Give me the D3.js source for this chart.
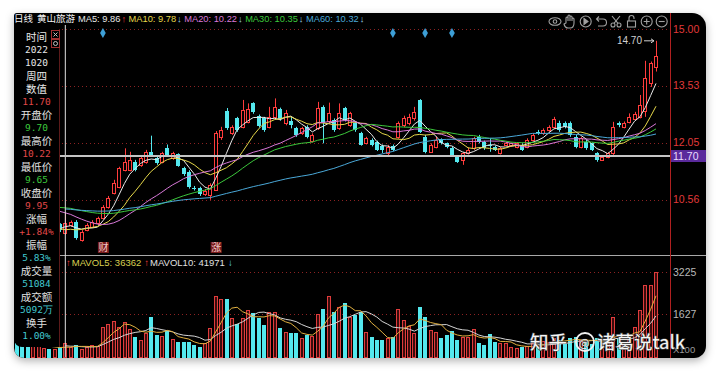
<!DOCTYPE html>
<html>
<head>
<meta charset="utf-8">
<script src="https://cdn.jsdelivr.net/npm/d3@7"></script>
<style>
body{margin:0;background:#fff;}
svg{display:block;}
</style>
</head>
<body>
<svg id="chart" width="720" height="371"></svg>
<script>
// daily K line, 120 sessions; index 9 is the cursor day (2022-10-20)
var openP = [10.05,9.88,9.75,9.58,9.62,9.70,9.88,9.80,9.92,
  9.70,9.90,9.99,9.51,9.77,9.86,9.95,10.08,10.38,10.73,
  10.90,11.34,11.34,11.55,11.47,11.55,11.81,11.64,11.55,11.90,
  11.64,11.75,11.38,11.29,10.87,10.86,10.70,10.69,10.82,12.20,
  12.88,12.29,12.68,12.46,12.59,13.07,12.74,12.68,12.46,12.72,
  12.92,12.55,12.62,12.42,12.29,12.46,12.10,12.42,12.98,12.60,
  12.64,12.42,12.94,12.51,12.55,12.29,12.03,12.12,12.07,11.97,
  11.77,11.95,12.20,12.51,12.55,12.68,13.16,12.20,11.81,11.94,
  12.13,12.03,11.90,11.68,11.60,11.77,11.90,12.20,12.07,11.99,
  11.94,11.77,11.99,11.99,11.94,11.99,11.94,12.12,12.33,12.29,
  12.38,12.46,12.55,12.55,12.55,12.20,11.94,12.07,12.03,11.77,
  11.60,11.68,11.77,12.55,12.46,12.59,12.66,12.72,12.88,13.59,14.03];
var highP = [10.10,9.92,9.78,9.70,9.72,9.90,9.92,9.95,9.95,
  10.22,10.02,10.03,9.77,9.95,10.03,10.12,10.42,10.66,11.08,
  11.42,11.90,11.81,11.60,11.68,11.86,12.23,11.68,11.81,12.00,
  11.81,11.77,11.42,11.33,10.92,10.90,10.84,10.99,12.35,12.46,
  12.95,12.50,12.72,13.16,13.07,13.10,12.78,12.72,12.98,13.20,
  12.96,12.90,12.72,12.46,12.46,12.50,12.29,13.11,13.02,13.09,
  12.68,13.07,12.98,12.85,12.60,12.33,12.20,12.16,12.10,12.00,
  11.99,12.00,12.60,12.75,12.80,12.98,13.18,12.25,12.03,12.20,
  12.16,12.05,11.95,11.72,11.80,11.92,12.20,12.25,12.10,12.16,
  11.97,11.94,12.07,12.05,12.05,12.03,12.16,12.29,12.38,12.42,
  12.50,12.72,12.62,12.60,12.60,12.25,12.20,12.12,12.05,11.80,
  11.72,11.80,12.59,12.60,12.60,12.81,12.85,13.29,14.18,14.16,14.70];
var lowP = [9.80,9.68,9.55,9.54,9.58,9.66,9.78,9.76,9.72,
  9.65,9.86,9.52,9.47,9.74,9.84,9.90,10.05,10.33,10.70,
  10.86,11.30,11.30,11.30,11.42,11.50,11.68,11.47,11.51,11.68,
  11.60,11.42,11.18,10.85,10.80,10.66,10.66,10.56,10.80,12.12,
  12.38,12.25,12.33,12.42,12.55,12.80,12.44,12.33,12.42,12.68,
  12.62,12.50,12.42,12.20,12.25,12.16,12.05,12.38,12.03,12.55,
  12.33,12.38,12.60,12.46,12.33,11.97,12.00,11.95,11.83,11.78,
  11.72,11.83,12.15,12.45,12.50,12.62,12.30,11.77,11.78,11.90,
  12.00,11.90,11.70,11.52,11.47,11.74,11.86,12.03,11.86,11.81,
  11.83,11.74,11.97,11.95,11.90,11.83,11.90,12.10,12.25,12.25,
  12.33,12.42,12.33,12.42,12.20,11.90,11.90,11.86,11.83,11.55,
  11.57,11.64,11.73,12.45,12.42,12.55,12.62,12.68,12.72,13.50,13.90];
var closeP = [9.85,9.72,9.60,9.65,9.68,9.85,9.83,9.90,9.77,
  9.95,9.97,9.56,9.73,9.90,9.97,10.08,10.38,10.60,10.99,
  11.39,11.55,11.60,11.34,11.64,11.81,11.72,11.51,11.77,11.73,
  11.77,11.45,11.22,10.88,10.85,10.70,10.80,10.95,12.29,12.38,
  12.42,12.46,12.38,12.90,12.92,12.85,12.48,12.38,12.72,12.98,
  12.66,12.81,12.52,12.25,12.42,12.20,12.25,12.94,12.55,12.81,
  12.38,12.81,12.64,12.81,12.38,11.99,12.16,11.99,11.86,11.85,
  11.94,11.86,12.55,12.68,12.72,12.85,12.33,11.81,11.99,12.12,
  12.03,11.94,11.73,11.55,11.77,11.86,12.16,12.07,11.90,11.97,
  11.86,11.90,12.03,12.03,12.03,11.86,12.12,12.25,12.29,12.38,
  12.46,12.66,12.38,12.46,12.25,11.94,12.16,11.90,11.86,11.60,
  11.68,11.77,12.46,12.51,12.55,12.72,12.79,13.03,13.72,14.11,14.30];
// volume in units of 100 hands
var volume = [520,480,450,470,459,340,300,306,361,
  511,361,449,297,361,461,423,1146,1248,1362,
  1146,1312,1046,765,639,917,1503,829,791,982,
  666,575,575,575,449,361,514,1084,2313,2199,
  2199,1465,1248,1465,1781,1655,1465,1210,1716,1716,
  1084,932,894,917,704,818,791,1629,1819,2325,
  1716,1906,2059,1503,1590,1693,932,765,639,639,
  704,765,1819,1400,1183,917,1883,1526,1020,955,
  727,829,993,639,765,765,1046,537,449,856,
  575,514,514,361,323,361,420,520,380,600,
  560,700,640,520,700,760,620,560,480,700,
  420,560,1526,700,520,640,1134,1780,2731,2731,3225];
// closes before the window, only used for the moving averages
var earlierClose = [10.50,10.45,10.40,10.35,10.40,10.45,10.40,10.35,10.35,10.35,
  10.30,10.25,10.35,10.30,10.20,10.25,10.35,10.40,10.30,10.30,
  10.20,10.15,10.10,10.05,10.10,10.20,10.25,10.20,10.20,10.25,
  10.40,10.50,10.55,10.65,10.70,10.60,10.55,10.70,10.75,10.70,
  10.80,10.85,10.90,10.95,10.85,10.70,10.60,10.45,10.30,10.20];

var cursorIdx = 9;
var cursorPrice = 11.70;
var priceTicks = [15.00, 13.53, 12.05, 10.56];
var volTicks = [3225, 1627];
var maPeriods = [5, 10, 20, 30, 60];
var maNames = ['MA5', 'MA10', 'MA20', 'MA30', 'MA60'];
var maReadout = ['9.86', '9.78', '10.22', '10.35', '10.32'];
var maArrow = ['↑', '↓', '↓', '↓', '↓'];
var mavolNames = ['MAVOL5', 'MAVOL10'];
var mavolReadout = ['36362', '41971'];
var newsIdx = [16, 70, 76, 81];
var tagIdx = [16, 37];
var tagText = ['财', '涨'];
var infoNames = ['开盘价', '最高价', '最低价', '收盘价', '涨幅', '振幅', '成交量', '成交额', '换手'];
var infoValues = ['9.70', '10.22', '9.65', '9.95', '+1.84%', '5.83%', '51084', '5092万', '1.00%'];
var infoHead = ['时间', '2022', '1020', '周四', '数值', '11.70'];

var RED = '#ff3c3c', CYAN = '#54e8ee';
var maColors = ['#e8e8e8', '#e6d84a', '#d878d8', '#3cc83c', '#4aa8d8'];
var CJK = '"Noto Sans CJK SC", sans-serif';
var LAT = '"Liberation Sans", Arial, sans-serif';
var MONO = '"DejaVu Sans Mono", "Liberation Mono", monospace';

var svg = d3.select('#chart');
var defs = svg.append('defs');

function roundRect(x0, y0, w, h, r) {
  var p = d3.path();
  p.moveTo(x0 + r[0], y0);
  p.lineTo(x0 + w - r[1], y0);
  p.arcTo(x0 + w, y0, x0 + w, y0 + r[1], r[1]);
  p.lineTo(x0 + w, y0 + h - r[2]);
  p.arcTo(x0 + w, y0 + h, x0 + w - r[2], y0 + h, r[2]);
  p.lineTo(x0 + r[3], y0 + h);
  p.arcTo(x0, y0 + h, x0, y0 + h - r[3], r[3]);
  p.lineTo(x0, y0 + r[0]);
  p.arcTo(x0, y0, x0 + r[0], y0, r[0]);
  p.closePath();
  return p.toString();
}

var L = 14, R = 706, T = 13, B = 358, axisX = 670.5;
var panelPath = roundRect(L, T, R - L, B - T, [3, 14, 12, 10]);

var sh = defs.append('filter').attr('id', 'sh').attr('x', '-5%').attr('y', '-5%').attr('width', '110%').attr('height', '115%');
sh.append('feDropShadow').attr('dx', 0).attr('dy', 3).attr('stdDeviation', 4).attr('flood-color', '#000').attr('flood-opacity', 0.3);

svg.append('path').attr('d', panelPath).attr('fill', '#000').attr('filter', 'url(#sh)');

defs.append('clipPath').attr('id', 'clipP').append('rect').attr('x', L).attr('y', 25).attr('width', axisX - L).attr('height', 229);
defs.append('clipPath').attr('id', 'clipV').append('path').attr('d', roundRect(L, 256, axisX - L, B - 256, [0, 0, 0, 10]));

// scales
var n = closeP.length;
var x = d3.scaleBand().domain(d3.range(n)).range([14.3, 658.7]).paddingInner(0.3).paddingOuter(0.15);
var cx = function (i) { return x(i) + x.bandwidth() / 2; };
var y = d3.scaleLinear().domain([9.2, 15]).range([252, 29.3]);
var yv = d3.scaleLinear().domain([0, 3225]).range([356.8, 272]);

// grid
var grid = svg.append('g').attr('stroke', '#8c2222').attr('stroke-dasharray', '1,3');
grid.selectAll('line.p').data(priceTicks).enter().append('line')
  .attr('x1', L).attr('x2', axisX).attr('y1', function (d) { return Math.round(y(d)) + 0.5; }).attr('y2', function (d) { return Math.round(y(d)) + 0.5; });
grid.selectAll('line.v').data(volTicks).enter().append('line')
  .attr('x1', L).attr('x2', axisX).attr('y1', function (d) { return Math.round(yv(d)) + 0.5; }).attr('y2', function (d) { return Math.round(yv(d)) + 0.5; });

// candles
var gP = svg.append('g').attr('clip-path', 'url(#clipP)');
var gC = gP.append('g');
d3.range(n).forEach(function (i) {
  var up = closeP[i] >= openP[i];
  var col = up ? RED : CYAN;
  var bx = Math.round(x(i)), bw = Math.round(x.bandwidth());
  var wx = bx + 2.5;
  var yT = Math.round(y(Math.max(openP[i], closeP[i])));
  var yB = Math.round(y(Math.min(openP[i], closeP[i])));
  gC.append('line').attr('x1', wx).attr('x2', wx).attr('y1', y(highP[i])).attr('y2', yT).attr('stroke', col);
  gC.append('line').attr('x1', wx).attr('x2', wx).attr('y1', yB).attr('y2', y(lowP[i])).attr('stroke', col);
  if (up) {
    gC.append('rect').attr('x', bx + 0.5).attr('y', yT + 0.5).attr('width', bw - 1).attr('height', Math.max(0, yB - yT))
      .attr('fill', '#000').attr('stroke', col);
  } else {
    gC.append('rect').attr('x', bx).attr('y', yT).attr('width', bw).attr('height', Math.max(1, yB - yT)).attr('fill', col);
  }
});

// moving averages
var allClose = earlierClose.concat(closeP), off = earlierClose.length;
function movAvg(arr, k, shift) {
  return d3.range(n).map(function (i) {
    var e = shift + i;
    if (e - k + 1 < 0) return [i, null];
    return [i, d3.mean(arr.slice(e - k + 1, e + 1))];
  });
}
var line = d3.line().defined(function (d) { return d[1] != null; })
  .x(function (d) { return cx(d[0]); }).y(function (d) { return y(d[1]); });
maPeriods.forEach(function (k, j) {
  gP.append('path').datum(movAvg(allClose, k, off)).attr('d', line)
    .attr('fill', 'none').attr('stroke', maColors[j]).attr('stroke-width', 1);
});

// high marker
var hiIdx = d3.maxIndex(highP);
svg.append('text').attr('x', cx(hiIdx) - 14).attr('y', y(highP[hiIdx])).attr('text-anchor', 'end').attr('dy', '0.35em')
  .attr('fill', '#d0d0d0').style('font', '10px ' + LAT).text(highP[hiIdx].toFixed(2));
svg.append('line').attr('x1', cx(hiIdx) - 12).attr('x2', cx(hiIdx) - 2).attr('y1', y(highP[hiIdx])).attr('y2', y(highP[hiIdx]))
  .attr('stroke', '#d0d0d0');
svg.append('path').attr('d', d3.line()([[cx(hiIdx) - 5, y(highP[hiIdx]) - 2], [cx(hiIdx) - 2, y(highP[hiIdx])], [cx(hiIdx) - 5, y(highP[hiIdx]) + 2]]))
  .attr('fill', 'none').attr('stroke', '#d0d0d0');

// news diamonds
svg.selectAll('path.news').data(newsIdx).enter().append('path')
  .attr('d', d3.symbol(d3.symbolDiamond).size(28))
  .attr('transform', function (d) { return 'translate(' + cx(d) + ',33)'; })
  .attr('fill', '#3d9fd6');

// event tags
tagIdx.forEach(function (d, j) {
  svg.append('rect').attr('x', cx(d) - 5).attr('y', 242).attr('width', 11).attr('height', 11).attr('fill', '#7a1c1c');
  svg.append('text').attr('x', cx(d) + 0.5).attr('y', 247.5).attr('dy', '0.35em').attr('text-anchor', 'middle')
    .attr('fill', '#f0c8c8').style('font', '10px ' + CJK).text(tagText[j]);
});

// volume
var gV = svg.append('g').attr('clip-path', 'url(#clipV)');
d3.range(n).forEach(function (i) {
  var up = closeP[i] >= openP[i];
  var bx = Math.round(x(i)), bw = Math.round(x.bandwidth());
  var yT = Math.round(yv(volume[i])), yB = Math.round(yv(0));
  if (up) {
    gV.append('rect').attr('x', bx + 0.5).attr('y', yT + 0.5).attr('width', bw - 1).attr('height', yB - yT)
      .attr('fill', '#3a0c0c').attr('stroke', '#e03c3c');
  } else {
    gV.append('rect').attr('x', bx).attr('y', yT).attr('width', bw).attr('height', yB - yT + 1).attr('fill', CYAN);
  }
});
var vline = d3.line().defined(function (d) { return d[1] != null; })
  .x(function (d) { return cx(d[0]); }).y(function (d) { return yv(d[1]); });
gV.append('path').datum(movAvg(volume, 10, 0)).attr('d', vline).attr('fill', 'none').attr('stroke', '#d4d4d4');
gV.append('path').datum(movAvg(volume, 5, 0)).attr('d', vline).attr('fill', 'none').attr('stroke', '#e0b040');

// panel separator
svg.append('line').attr('x1', L).attr('x2', R).attr('y1', 255.5).attr('y2', 255.5).attr('stroke', '#a8a8a8');

// cursor
svg.append('line').attr('x1', cx(cursorIdx)).attr('x2', cx(cursorIdx)).attr('y1', 25).attr('y2', 357)
  .attr('stroke', '#e0e0e0');
svg.append('line').attr('x1', 58).attr('x2', axisX).attr('y1', y(cursorPrice)).attr('y2', y(cursorPrice))
  .attr('stroke', '#c4c4c4').attr('stroke-width', 2);

// right axis
svg.append('line').attr('x1', axisX).attr('x2', axisX).attr('y1', T).attr('y2', B).attr('stroke', '#b02020');
svg.selectAll('text.pt').data(priceTicks).enter().append('text')
  .attr('x', 673).attr('y', function (d) { return y(d); }).attr('dy', '0.35em')
  .attr('fill', '#e03a3a').style('font', '10.5px ' + LAT).text(function (d) { return d.toFixed(2); });
svg.append('rect').attr('x', 671).attr('y', y(cursorPrice) - 6).attr('width', 35).attr('height', 12).attr('fill', '#5a2a9c');
svg.append('text').attr('x', 673).attr('y', y(cursorPrice)).attr('dy', '0.35em')
  .attr('fill', '#e8dcff').style('font', '10.5px ' + LAT).text(cursorPrice.toFixed(2));
svg.selectAll('text.vt').data(volTicks).enter().append('text')
  .attr('x', 673).attr('y', function (d) { return yv(d); }).attr('dy', '0.35em')
  .attr('fill', '#b8b8b8').style('font', '10.5px ' + LAT).text(function (d) { return d; });
svg.append('text').attr('x', 673).attr('y', 350).attr('dy', '0.35em')
  .attr('fill', '#9a9a9a').style('font', '9.5px ' + LAT).text('X100');

// title / MA legend, laid out left to right
var tt = svg.append('g').style('font', '9.3px ' + LAT);
tt.append('text').attr('x', 14).attr('y', 19).attr('dy', '0.35em').attr('fill', '#f0f0f0').style('font', '9.5px ' + CJK).text('日线');
tt.append('text').attr('x', 37).attr('y', 19).attr('dy', '0.35em').attr('fill', '#f0f0f0').style('font', '9.5px ' + CJK).text('黄山旅游');
var lx = 78;
maNames.forEach(function (nm, j) {
  var t = tt.append('text').attr('x', lx).attr('y', 19).attr('dy', '0.35em').attr('fill', maColors[j]).text(nm + ': ' + maReadout[j]);
  lx += t.node().getComputedTextLength() + 1;
  var a = tt.append('text').attr('x', lx).attr('y', 19).attr('dy', '0.35em')
    .attr('fill', maArrow[j] === '↑' ? RED : '#9fdcf0').style('font-weight', 'bold').text(maArrow[j]);
  lx += a.node().getComputedTextLength() + 2.5;
});

// volume legend
var vl = svg.append('g').style('font', '9.5px ' + LAT);
var vx = 66;
mavolNames.forEach(function (nm, j) {
  var a = vl.append('text').attr('x', vx).attr('y', 263).attr('dy', '0.35em').attr('fill', RED).style('font-weight', 'bold').text('↑');
  vx += a.node().getComputedTextLength() + 1;
  var t = vl.append('text').attr('x', vx).attr('y', 263).attr('dy', '0.35em')
    .attr('fill', j === 0 ? '#d8d050' : '#e0e0e0').text(nm + ': ' + mavolReadout[j]);
  vx += t.node().getComputedTextLength() + 3;
});
vl.append('text').attr('x', vx).attr('y', 263).attr('dy', '0.35em').attr('fill', '#60d8f0').style('font-weight', 'bold').text('↓');

// toolbar icons
var tb = svg.append('g').attr('fill', 'none').attr('stroke', '#a0a0a0').attr('stroke-width', 1.1);
tb.append('ellipse').attr('cx', 555).attr('cy', 21.5).attr('rx', 6).attr('ry', 3.8);
tb.append('circle').attr('cx', 555).attr('cy', 21.5).attr('r', 1.8);
tb.append('path').attr('d', 'M566,23 v-5 a1,1 0 0 1 2,0 v3 v-5 a1,1 0 0 1 2,0 v5 v-4 a1,1 0 0 1 2,0 v4 v-2 a1,1 0 0 1 2,0 v4 q0,5 -4,5 h-2 q-3,0 -4,-4 z');
tb.append('circle').attr('cx', 585.7).attr('cy', 21.5).attr('r', 5.5);
tb.append('path').attr('d', 'M584,18.5 l4,3 l-4,3 z').attr('fill', '#a0a0a0');
tb.append('path').attr('d', 'M597,19 h6 a3.5,3.5 0 0 1 0,7 h-5 M599,16.5 l-2.5,2.5 l2.5,2.5');
tb.append('circle').attr('cx', 613).attr('cy', 25).attr('r', 2);
tb.append('circle').attr('cx', 619).attr('cy', 25).attr('r', 2);
tb.append('path').attr('d', 'M614,23.3 L620,16 M618,23.3 L612,16');
tb.append('rect').attr('x', 627.5).attr('y', 21).attr('width', 8).attr('height', 6);
tb.append('path').attr('d', 'M629,21 v-3 a2.5,2.5 0 0 1 5,0 v1');
tb.append('circle').attr('cx', 646.7).attr('cy', 21.5).attr('r', 5.5);
tb.append('path').attr('d', 'M643.7,21.5 h6 M646.7,18.5 v6');
tb.append('circle').attr('cx', 661.7).attr('cy', 21.5).attr('r', 5.5);
tb.append('path').attr('d', 'M658.7,21.5 h6');

// info box over the left edge
svg.append('path').attr('d', roundRect(L, 25, 45.5, 322, [0, 0, 0, 8])).attr('fill', '#000');
svg.append('line').attr('x1', 59.5).attr('x2', 59.5).attr('y1', 29).attr('y2', 347).attr('stroke', '#5c1a1a');
svg.append('rect').attr('x', 51.5).attr('y', 30.5).attr('width', 8).attr('height', 8).attr('fill', 'none').attr('stroke', '#a03030');
svg.append('path').attr('d', 'M53.5,32.5 l4,4 M57.5,32.5 l-4,4').attr('stroke', '#c0c0c0');
svg.append('rect').attr('x', 51.5).attr('y', 39.5).attr('width', 8).attr('height', 8).attr('fill', 'none').attr('stroke', '#a03030');
svg.append('circle').attr('cx', 55.5).attr('cy', 43.5).attr('r', 2).attr('fill', 'none').attr('stroke', '#c0c0c0');

var prevClose = closeP[cursorIdx - 1];
var rows = [];
infoHead.forEach(function (t, j) {
  rows.push({ t: t, c: j === 5 ? '#e04848' : '#e8e8e8', num: j === 1 || j === 2 || j === 5 });
});
infoNames.forEach(function (nm, j) {
  var v = infoValues[j], col;
  if (j < 4) col = parseFloat(v) >= prevClose ? '#e04848' : '#3cc83c';
  else if (j === 4) col = '#e04848';
  else col = '#40c8d0';
  rows.push({ t: nm, c: '#e0e0e0', num: false });
  rows.push({ t: v, c: col, num: true });
});
svg.append('g').selectAll('text').data(rows).enter().append('text')
  .attr('x', 36.5).attr('y', function (d, j) { return 37 + j * 13; }).attr('dy', '0.35em').attr('text-anchor', 'middle')
  .attr('fill', function (d) { return d.c; })
  .style('font', function (d) { return d.num ? '9.5px ' + MONO : '10.5px ' + CJK; })
  .text(function (d) { return d.t; });

// watermark
var wm = svg.append('g').style('font', '18.5px ' + CJK).attr('fill', '#f6f6f6').attr('stroke', '#505050').attr('stroke-width', 1.2)
  .style('paint-order', 'stroke');
wm.append('text').attr('x', 530).attr('y', 349).text('知乎');
wm.append('circle').attr('cx', 585).attr('cy', 342).attr('r', 9).attr('fill', 'none').attr('stroke', '#f0f0f0').attr('stroke-width', 1.8);
wm.append('text').attr('x', 579).attr('y', 346.5).style('font', '11px ' + CJK).attr('stroke-width', 0.6).text('@');
wm.append('text').attr('x', 597).attr('y', 349).text('诸葛说talk');
</script>
</body>
</html>
